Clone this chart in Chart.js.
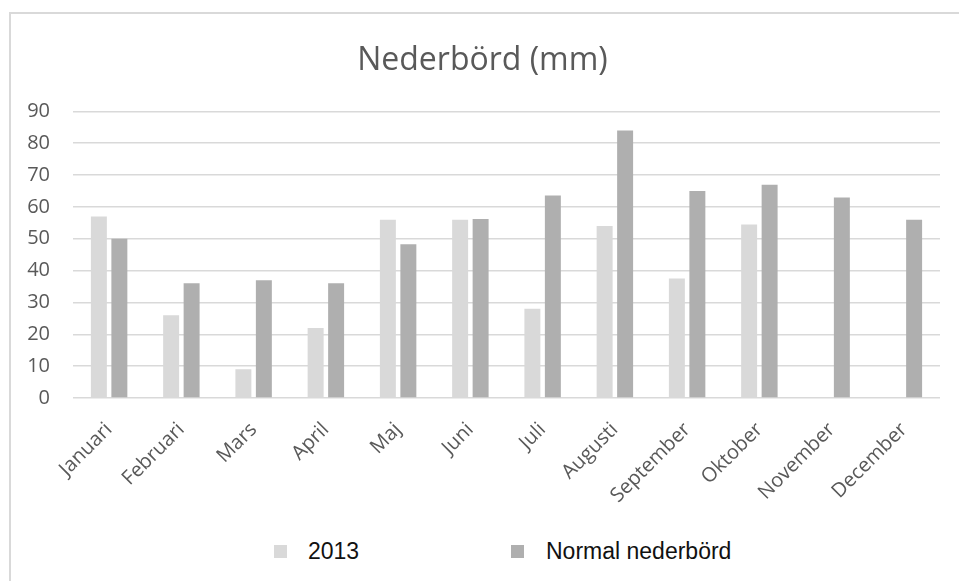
<!DOCTYPE html>
<html>
<head>
<meta charset="utf-8">
<title>Nederbörd</title>
<script src="https://cdn.jsdelivr.net/npm/chart.js@4.4.1/dist/chart.umd.min.js"></script>
<style>
  html, body { margin: 0; padding: 0; background: #fff; overflow: hidden; }
  #frame {
    position: absolute; left: 9px; top: 12px;
    width: 960px; height: 580px;
    border-left: 2px solid #d9d9d9; border-top: 2px solid #d9d9d9;
  }
  #wrap { position: absolute; left: 0; top: 0; width: 948px; height: 520px; }
  .item { position: absolute; font: 23px "Liberation Sans", Arial, sans-serif; color: #111; line-height: 1; }
  .swatch { position: absolute; width: 13px; height: 13px; }
</style>
</head>
<body>
<div id="frame">
  <div id="wrap"><canvas id="myChart"></canvas></div>
</div>
<div id="legend"></div>
<script>
// Monthly precipitation, mm
const months = ["Januari", "Februari", "Mars", "April", "Maj", "Juni", "Juli", "Augusti", "September", "Oktober", "November", "December"];
const rain2013 = [57, 26, 9, 22, 56, 56, 28, 54, 37.5, 54.5, null, null];
const rainNormal = [50, 36, 37, 36, 48.3, 56.2, 63.6, 84, 65, 67, 63, 56];
const seriesNames = ["2013", "Normal nederbörd"];
const seriesColors = ["#d9d9d9", "#afafaf"];
const yMin = 0, yMax = 90, yStep = 10;

const textGray = "#595959";

const ctx = document.getElementById("myChart");
const data = {
    labels: months,
    datasets: [
        {
            label: seriesNames[0],
            data: rain2013,
            backgroundColor: seriesColors[0],
            categoryPercentage: 0.567,
            barPercentage: 0.78,
        },
        {
            label: seriesNames[1],
            data: rainNormal,
            backgroundColor: seriesColors[1],
            categoryPercentage: 0.567,
            barPercentage: 0.78,
        },
    ],
};
const config = {
    type: "bar",
    data,
    options: {
        responsive: true,
        maintainAspectRatio: false,
        animation: false,
        layout: { padding: { left: 14, right: 19, top: 0, bottom: 0 } },
        plugins: {
            legend: { display: false },
            tooltip: { enabled: false },
            title: {
                display: true,
                text: "Nederbörd (mm)",
                color: textGray,
                font: { family: "'Open Sans', sans-serif", size: 32, weight: "normal" },
                padding: { top: 28, bottom: 31 },
            },
        },
        scales: {
            x: {
                grid: { display: false },
                border: { display: false },
                ticks: {
                    color: textGray,
                    font: { family: "'Open Sans', sans-serif", size: 20 },
                    minRotation: 45,
                    maxRotation: 45,
                    autoSkip: false,
                    padding: 12,
                },
                afterFit: (scale) => { scale.height = 136; },
            },
            y: {
                min: yMin,
                max: yMax,
                border: { display: false },
                grid: { color: "#d9d9d9", lineWidth: 1.5, drawTicks: false },
                ticks: {
                    stepSize: yStep,
                    color: textGray,
                    font: { family: "'Open Sans', sans-serif", size: 20 },
                    padding: 23,
                },
                afterFit: (scale) => { scale.width = 48; },
            },
        },
    },
};
const myChart = new Chart(ctx, config);

// Legend under the chart
const legend = document.getElementById("legend");
const legendPos = [{ box: 274, text: 308 }, { box: 511, text: 546 }];
data.datasets.forEach((ds, i) => {
    const sw = document.createElement("div");
    sw.className = "swatch";
    sw.style.left = legendPos[i].box + "px";
    sw.style.top = "545px";
    sw.style.background = ds.backgroundColor;
    legend.appendChild(sw);
    const txt = document.createElement("div");
    txt.className = "item";
    txt.style.left = legendPos[i].text + "px";
    txt.style.top = "540px";
    txt.textContent = ds.label;
    legend.appendChild(txt);
});
</script>
</body>
</html>
